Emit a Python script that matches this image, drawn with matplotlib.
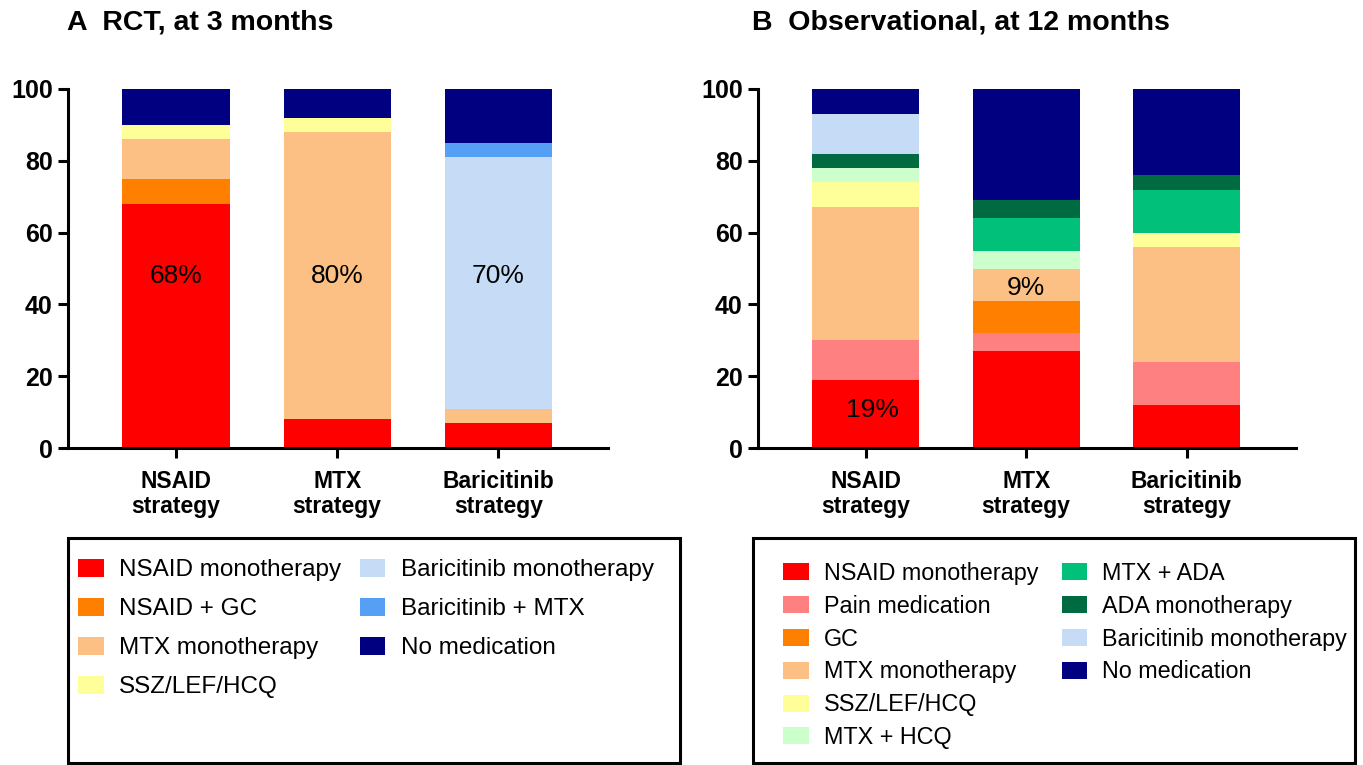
import numpy as np
import matplotlib
matplotlib.use("Agg")
import matplotlib.pyplot as plt
from matplotlib.patches import Patch, Rectangle

plt.rcParams["font.family"] = ["Liberation Sans", "DejaVu Sans"]

strategies = ["NSAID\nstrategy", "MTX\nstrategy", "Baricitinib\nstrategy"]

# A: RCT, treatment at 3 months (% of patients in each arm)
rct_labels = ["NSAID monotherapy", "NSAID + GC", "MTX monotherapy", "SSZ/LEF/HCQ",
              "Baricitinib monotherapy", "Baricitinib + MTX", "No medication"]
rct_nsaid_mono = [68, 8, 7]
rct_nsaid_gc = [7, 0, 0]
rct_mtx_mono = [11, 80, 4]
rct_ssz_lef_hcq = [4, 4, 0]
rct_bari_mono = [0, 0, 70]
rct_bari_mtx = [0, 0, 4]
rct_no_med = [10, 8, 15]

# B: observational cohort, treatment at 12 months
obs_labels = ["NSAID monotherapy", "Pain medication", "GC", "MTX monotherapy",
              "SSZ/LEF/HCQ", "MTX + HCQ", "MTX + ADA", "ADA monotherapy",
              "Baricitinib monotherapy", "No medication"]
obs_nsaid_mono = [19, 27, 12]
obs_pain = [11, 5, 12]
obs_gc = [0, 9, 0]
obs_mtx_mono = [37, 9, 32]
obs_ssz_lef_hcq = [7, 0, 4]
obs_mtx_hcq = [4, 5, 0]
obs_mtx_ada = [0, 9, 12]
obs_ada_mono = [4, 5, 4]
obs_bari_mono = [11, 0, 0]
obs_no_med = [7, 31, 24]

RED = "#ff0000"
PINK = "#ff8080"
ORANGE = "#ff8000"
PEACH = "#fcbf84"
YELLOW = "#ffff99"
MINT = "#ccffcc"
GREEN = "#00c07a"
DKGREEN = "#006a40"
LTBLUE = "#c6dcf6"
BLUE = "#55a0f5"
NAVY = "#000080"

rct_series = [rct_nsaid_mono, rct_nsaid_gc, rct_mtx_mono, rct_ssz_lef_hcq,
              rct_bari_mono, rct_bari_mtx, rct_no_med]
rct_colors = [RED, ORANGE, PEACH, YELLOW, LTBLUE, BLUE, NAVY]

obs_series = [obs_nsaid_mono, obs_pain, obs_gc, obs_mtx_mono, obs_ssz_lef_hcq,
              obs_mtx_hcq, obs_mtx_ada, obs_ada_mono, obs_bari_mono, obs_no_med]
obs_colors = [RED, PINK, ORANGE, PEACH, YELLOW, MINT, GREEN, DKGREEN, LTBLUE, NAVY]

W, H = 1363, 765
fig = plt.figure(figsize=(W / 100, H / 100), dpi=100)


def px_axes(x0, x1, y_top, y_bot):
    return fig.add_axes([x0 / W, 1 - y_bot / H, (x1 - x0) / W, (y_bot - y_top) / H])


def draw_stack(ax, series, colors):
    x = np.arange(len(strategies))
    bottom = np.zeros(len(strategies))
    for vals, col in zip(series, colors):
        ax.bar(x, vals, width=0.665, bottom=bottom, color=col, edgecolor="none")
        bottom += np.array(vals)

    ax.set_xlim(-0.67, 2.68)
    ax.set_ylim(0, 100)
    ax.set_yticks([0, 20, 40, 60, 80, 100])
    ax.set_xticks(x)
    ax.set_xticklabels(strategies, fontsize=16.5, fontweight="bold", linespacing=1.1)
    for lbl in ax.get_yticklabels():
        lbl.set_fontsize(18)
        lbl.set_fontweight("bold")
    for side in ["top", "right"]:
        ax.spines[side].set_visible(False)
    for side in ["left", "bottom"]:
        ax.spines[side].set_linewidth(2.2)
    ax.tick_params(axis="both", direction="out", length=7, width=2.2)
    ax.tick_params(axis="x", pad=9)
    ax.tick_params(axis="y", pad=4)


ax_a = px_axes(68, 608, 89, 448)
draw_stack(ax_a, rct_series, rct_colors)
ax_b = px_axes(758, 1296, 89, 448)
draw_stack(ax_b, obs_series, obs_colors)

# percentage labels on the highlighted segments
ax_a.text(0, 48, f"{rct_nsaid_mono[0]}%", ha="center", va="center", fontsize=19)
ax_a.text(1, 48, f"{rct_mtx_mono[1]}%", ha="center", va="center", fontsize=19)
ax_a.text(2, 48, f"{rct_bari_mono[2]}%", ha="center", va="center", fontsize=19)
ax_b.text(0.04, obs_nsaid_mono[0] / 2 + 1, f"{obs_nsaid_mono[0]}%",
          ha="center", va="center", fontsize=19)
mtx_base = obs_nsaid_mono[1] + obs_pain[1] + obs_gc[1]
ax_b.text(1, mtx_base + obs_mtx_mono[1] / 2 - 1, f"{obs_mtx_mono[1]}%",
          ha="center", va="center", fontsize=19)

# panel titles
fig.text(67 / W, 1 - 23 / H, "A  RCT, at 3 months", fontsize=20.5, fontweight="bold",
         ha="left", va="center")
fig.text(752 / W, 1 - 23 / H, "B  Observational, at 12 months", fontsize=20.5,
         fontweight="bold", ha="left", va="center")

# legend boxes below each panel
for x0, x1 in [(68, 680), (753, 1355)]:
    fig.patches.append(Rectangle((x0 / W, 1 - 763 / H), (x1 - x0) / W, (763 - 538) / H,
                                 transform=fig.transFigure, fill=False,
                                 edgecolor="black", linewidth=2.2))

handles_a = [Patch(facecolor=c, edgecolor="none") for c in rct_colors]
fig.legend(handles_a, rct_labels, loc="upper left", bbox_to_anchor=(78 / W, 1 - 559 / H),
           ncol=2, frameon=False, fontsize=17.5, borderpad=0, borderaxespad=0,
           handlelength=1.05, handleheight=0.75, handletextpad=0.65,
           labelspacing=0.68, columnspacing=0.75)

# two empty slots so the first column holds six entries
handles_b = [Patch(facecolor=c, edgecolor="none") for c in obs_colors]
handles_b += [Patch(visible=False), Patch(visible=False)]
fig.legend(handles_b, obs_labels + ["", ""], loc="upper left",
           bbox_to_anchor=(783 / W, 1 - 562 / H),
           ncol=2, frameon=False, fontsize=16.8, borderpad=0, borderaxespad=0,
           handlelength=1.1, handleheight=0.75, handletextpad=0.65,
           labelspacing=0.42, columnspacing=1.0)

fig.savefig("out.png", dpi=100)
